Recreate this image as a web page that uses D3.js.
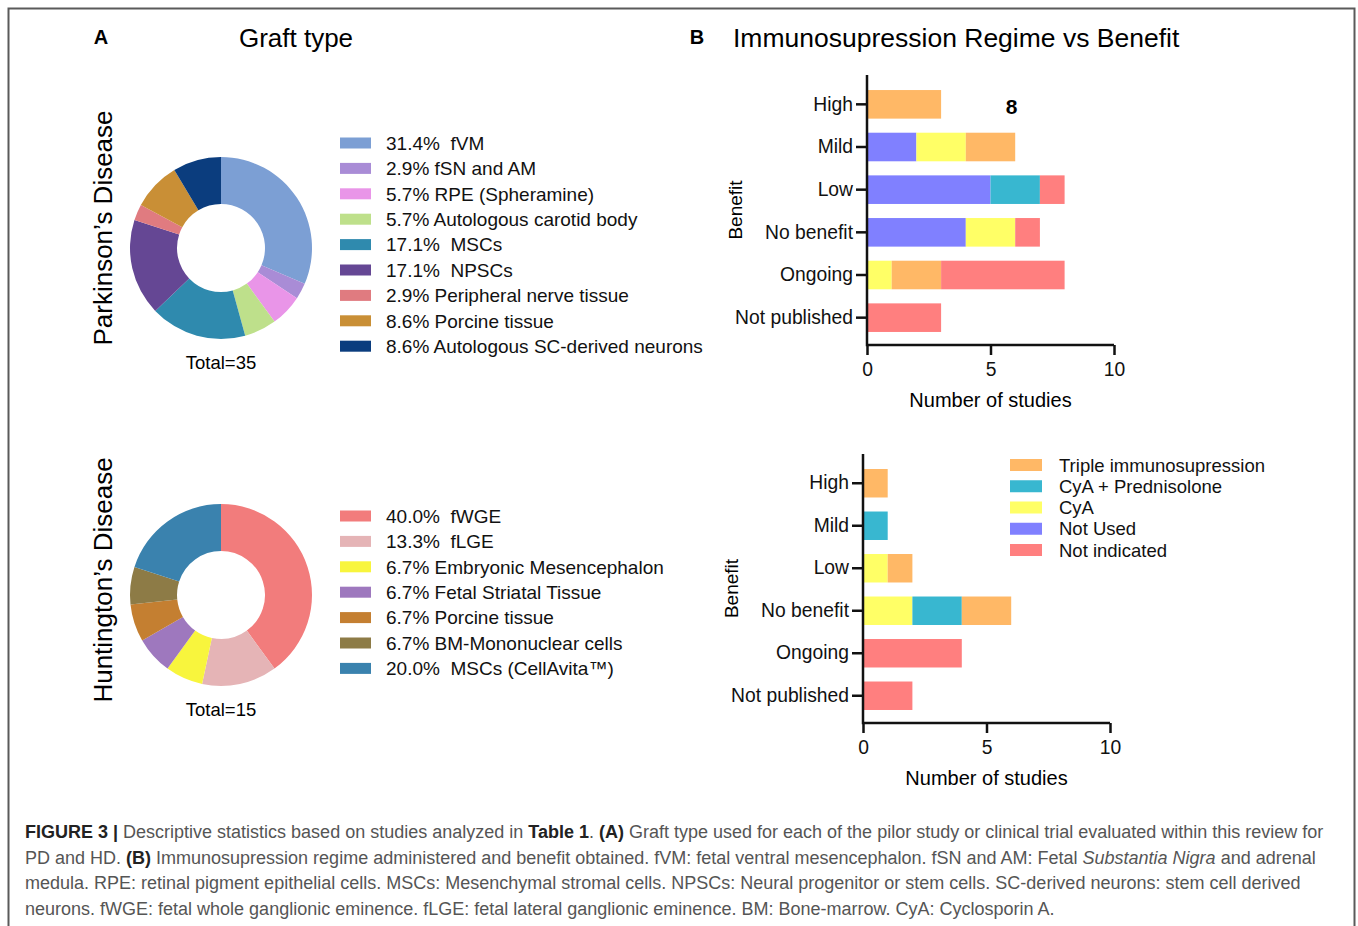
<!DOCTYPE html>
<html>
<head>
<meta charset="utf-8">
<script src="https://cdn.jsdelivr.net/npm/d3@7"></script>
<style>
    body { margin: 0; background: #fff; }
    svg text { font-family: 'Liberation Sans', Arial, sans-serif; }
    .legend-text { white-space: pre; }
</style>
</head>
<body>
<svg id="canvas"></svg>
<script>
const width = 1358;
const height = 926;

// Graft type (A)
const pdGraftTypes = ['fVM', 'fSN and AM', 'RPE (Spheramine)', 'Autologous carotid body', 'MSCs', 'NPSCs',
    'Peripheral nerve tissue', 'Porcine tissue', 'Autologous SC-derived neurons'];
const pdGraftCounts = [11, 1, 2, 2, 6, 6, 1, 3, 3];
const pdGraftColors = ['#7c9fd4', '#a98cd6', '#e995e8', '#bee08b', '#2f8aae', '#654794', '#e07b80', '#c98f36', '#0b3d7e'];

const hdGraftTypes = ['fWGE', 'fLGE', 'Embryonic Mesencephalon', 'Fetal Striatal Tissue', 'Porcine tissue',
    'BM-Mononuclear cells', 'MSCs (CellAvita\u2122)'];
const hdGraftCounts = [6, 2, 1, 1, 1, 1, 3];
const hdGraftColors = ['#f27c7c', '#e5b4b6', '#f8f53d', '#9e78be', '#c47f31', '#8d7b46', '#3a82ae'];

// Immunosupression vs benefit (B)
const benefitLevels = ['High', 'Mild', 'Low', 'No benefit', 'Ongoing', 'Not published'];
const regimes = ['Not Used', 'CyA', 'CyA + Prednisolone', 'Triple immunosupression', 'Not indicated'];
const regimeLegendOrder = ['Triple immunosupression', 'CyA + Prednisolone', 'CyA', 'Not Used', 'Not indicated'];
const regimeColors = ['#8080ff', '#ffff66', '#38b7d0', '#ffb866', '#ff7f7f'];

const pdNotUsed = [0, 2, 5, 4, 0, 0];
const pdCyA = [0, 2, 0, 2, 1, 0];
const pdCyAPred = [0, 0, 2, 0, 0, 0];
const pdTriple = [3, 2, 0, 0, 2, 0];
const pdNotIndicated = [0, 0, 1, 1, 5, 3];

const hdNotUsed = [0, 0, 0, 0, 0, 0];
const hdCyA = [0, 0, 1, 2, 0, 0];
const hdCyAPred = [0, 1, 0, 2, 0, 0];
const hdTriple = [1, 0, 1, 2, 0, 0];
const hdNotIndicated = [0, 0, 0, 0, 4, 2];

const xTicks = [0, 5, 10];

const captionLines = [
    [['b', 'FIGURE 3 | '], ['', 'Descriptive statistics based on studies analyzed in '], ['b', 'Table 1'], ['', '. '], ['b', '(A)'],
     ['', ' Graft type used for each of the pilor study or clinical trial evaluated within this review for']],
    [['', 'PD and HD. '], ['b', '(B)'], ['', ' Immunosupression regime administered and benefit obtained. fVM: fetal ventral mesencephalon. fSN and AM: Fetal '],
     ['i', 'Substantia Nigra'], ['', ' and adrenal']],
    [['', 'medula. RPE: retinal pigment epithelial cells. MSCs: Mesenchymal stromal cells. NPSCs: Neural progenitor or stem cells. SC-derived neurons: stem cell derived']],
    [['', 'neurons. fWGE: fetal whole ganglionic eminence. fLGE: fetal lateral ganglionic eminence. BM: Bone-marrow. CyA: Cyclosporin A.']]
];

const svg = d3.select('#canvas')
    .attr('width', width)
    .attr('height', height);

// 外枠
svg.append('path')
    .attr('d', 'M8.5,' + (height + 5) + 'V8.5H1354.5V' + (height + 5))
    .attr('fill', 'none')
    .attr('stroke', '#5a5a5a')
    .attr('stroke-width', 2);

// panel headers
svg.append('text').attr('x', 101).attr('y', 44).attr('text-anchor', 'middle')
    .attr('font-size', 20).attr('font-weight', 'bold').text('A');
svg.append('text').attr('x', 296).attr('y', 47).attr('text-anchor', 'middle')
    .attr('font-size', 26).text('Graft type');
svg.append('text').attr('x', 697).attr('y', 44).attr('text-anchor', 'middle')
    .attr('font-size', 20).attr('font-weight', 'bold').text('B');
svg.append('text').attr('x', 733).attr('y', 47)
    .attr('font-size', 26.5).text('Immunosupression Regime vs Benefit');

const pctLabel = (count, total) => {
    const p = (count / total * 100).toFixed(1) + '%';
    return p.length > 4 ? p + '  ' : p + ' ';
};

// ドーナツ + 凡例
const drawDonut = (cfg) => {
    const total = d3.sum(cfg.counts);
    const g = svg.append('g').attr('transform', 'translate(' + cfg.cx + ',' + cfg.cy + ')');
    const pie = d3.pie().sort(null).value(d => d);
    const arc = d3.arc().innerRadius(44).outerRadius(91);
    g.selectAll('path')
        .data(pie(cfg.counts))
        .join('path')
        .attr('d', arc)
        .attr('fill', (d, i) => cfg.colors[i]);

    g.append('text')
        .attr('y', 121)
        .attr('text-anchor', 'middle')
        .attr('font-size', 18.5)
        .text('Total=' + total);

    svg.append('text')
        .attr('transform', 'translate(' + (cfg.cx - 109) + ',' + cfg.labelY + ') rotate(-90)')
        .attr('text-anchor', 'middle')
        .attr('font-size', 26)
        .text(cfg.title);

    const rowY = d3.scalePoint()
        .domain(cfg.names)
        .range([cfg.legendTop, cfg.legendTop + 25.4 * (cfg.names.length - 1)]);
    const lg = svg.append('g');
    lg.selectAll('rect')
        .data(cfg.names)
        .join('rect')
        .attr('x', 340)
        .attr('y', d => rowY(d) - 5.5)
        .attr('width', 31)
        .attr('height', 11)
        .attr('fill', (d, i) => cfg.colors[i]);
    lg.selectAll('text')
        .data(cfg.names)
        .join('text')
        .attr('class', 'legend-text')
        .attr('x', 386)
        .attr('y', d => rowY(d))
        .attr('dy', '0.36em')
        .attr('font-size', 19)
        .attr('fill', '#111')
        .text((d, i) => pctLabel(cfg.counts[i], total) + d);
};

drawDonut({
    cx: 221, cy: 248, counts: pdGraftCounts, colors: pdGraftColors, names: pdGraftTypes,
    title: 'Parkinson\u2019s Disease', labelY: 228, legendTop: 143
});
drawDonut({
    cx: 221, cy: 595, counts: hdGraftCounts, colors: hdGraftColors, names: hdGraftTypes,
    title: 'Huntington\u2019s Disease', labelY: 580, legendTop: 516
});

// 積み上げ横棒グラフ
const drawBars = (cfg) => {
    const rows = benefitLevels.map((b, i) => {
        const row = { benefit: b };
        regimes.forEach((r, j) => { row[r] = cfg.series[j][i]; });
        return row;
    });
    const stacked = d3.stack().keys(regimes)(rows);

    const x = d3.scaleLinear().domain([0, 10]).range([cfg.left, cfg.left + 247]);
    const y = d3.scaleBand()
        .domain(benefitLevels)
        .range([cfg.top + 8, cfg.bottom - 6])
        .paddingInner(0.33)
        .paddingOuter(0.165);

    const g = svg.append('g');
    g.selectAll('g.layer')
        .data(stacked)
        .join('g')
        .attr('class', 'layer')
        .attr('fill', (d, i) => regimeColors[i])
        .selectAll('rect')
        .data(d => d)
        .join('rect')
        .attr('x', d => x(d[0]))
        .attr('y', d => y(d.data.benefit))
        .attr('width', d => x(d[1]) - x(d[0]))
        .attr('height', y.bandwidth());

    const axisY = g.append('g')
        .attr('transform', 'translate(' + cfg.left + ',0)')
        .call(d3.axisLeft(y).tickSize(11).tickPadding(3).tickSizeOuter(0));
    const axisX = g.append('g')
        .attr('transform', 'translate(0,' + cfg.bottom + ')')
        .call(d3.axisBottom(x).tickValues(xTicks).tickSize(10).tickPadding(7).tickSizeOuter(0));

    [axisY, axisX].forEach(a => {
        a.select('.domain').remove();
        a.selectAll('line').attr('stroke', '#111').attr('stroke-width', 2.5);
        a.selectAll('text')
            .attr('font-family', "'Liberation Sans', Arial, sans-serif")
            .attr('font-size', 19.3)
            .attr('fill', '#111');
    });

    // 軸線
    g.append('path')
        .attr('d', 'M' + cfg.left + ',' + cfg.top + 'V' + cfg.bottom + 'H' + x(10))
        .attr('fill', 'none')
        .attr('stroke', '#111')
        .attr('stroke-width', 2.5);

    g.append('text')
        .attr('x', x(5))
        .attr('y', cfg.bottom + 62)
        .attr('text-anchor', 'middle')
        .attr('font-size', 20)
        .text('Number of studies');

    g.append('text')
        .attr('transform', 'translate(' + (cfg.left - 125) + ',' + (cfg.top + cfg.bottom) / 2 + ') rotate(-90)')
        .attr('text-anchor', 'middle')
        .attr('font-size', 19)
        .text('Benefit');

    return { x, y };
};

const pdScales = drawBars({
    left: 867, top: 75, bottom: 345,
    series: [pdNotUsed, pdCyA, pdCyAPred, pdTriple, pdNotIndicated]
});
drawBars({
    left: 863, top: 454, bottom: 723,
    series: [hdNotUsed, hdCyA, hdCyAPred, hdTriple, hdNotIndicated]
});

// annotation "8"
svg.append('text')
    .attr('x', pdScales.x(5.85))
    .attr('y', pdScales.y('High') + pdScales.y.bandwidth() / 2)
    .attr('dy', '0.45em')
    .attr('text-anchor', 'middle')
    .attr('font-size', 21)
    .attr('font-weight', 'bold')
    .text('8');

// regime legend
const legendY = d3.scalePoint()
    .domain(regimeLegendOrder)
    .range([465, 550]);
const rl = svg.append('g');
rl.selectAll('rect')
    .data(regimeLegendOrder)
    .join('rect')
    .attr('x', 1010)
    .attr('y', d => legendY(d) - 6)
    .attr('width', 32)
    .attr('height', 12)
    .attr('fill', d => regimeColors[regimes.indexOf(d)]);
rl.selectAll('text')
    .data(regimeLegendOrder)
    .join('text')
    .attr('x', 1059)
    .attr('y', d => legendY(d))
    .attr('dy', '0.36em')
    .attr('font-size', 18.5)
    .attr('fill', '#111')
    .text(d => d);

// キャプション
const caption = svg.append('g');
captionLines.forEach((line, i) => {
    const t = caption.append('text')
        .attr('class', 'legend-text')
        .attr('x', 25)
        .attr('y', 838 + i * 25.5)
        .attr('font-size', 18)
        .attr('fill', '#555');
    line.forEach(([style, str]) => {
        t.append('tspan')
            .attr('font-weight', style === 'b' ? 'bold' : null)
            .attr('font-style', style === 'i' ? 'italic' : null)
            .attr('fill', style === 'b' ? '#222' : null)
            .text(str);
    });
});
</script>
</body>
</html>
